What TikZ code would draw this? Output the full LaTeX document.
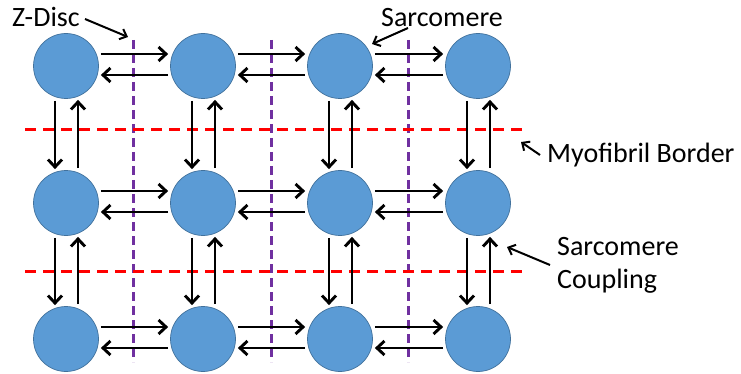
\documentclass[tikz,border=0pt]{standalone}
\usepackage{fontspec}
\setmainfont{Carlito}
\usetikzlibrary{arrows.meta}
\definecolor{cellblue}{RGB}{91,155,213}
\definecolor{celledge}{RGB}{65,113,156}
\definecolor{zpurple}{RGB}{112,48,160}
\begin{document}
\begin{tikzpicture}[x=1pt,y=-1pt,
  cell/.style={circle,fill=cellblue,draw=celledge,line width=0.7pt,minimum size=65pt,inner sep=0pt},
  arr/.style={line width=2.9pt,-{Straight Barb[length=7.5pt,width=14pt,line width=2.9pt]}},
  note/.style={line width=2pt,-{Straight Barb[length=6pt,width=11pt,line width=2pt]}},
  zline/.style={zpurple,line width=3pt,dash pattern=on 9pt off 5pt},
  mline/.style={red,line width=3pt,dash pattern=on 11pt off 7pt},
  lbl/.style={font=\fontsize{28}{33}\selectfont,inner sep=0pt}]
\useasboundingbox (0,0) rectangle (741,374);
% dashed borders
\draw[zline] (133,40) -- (133,362);
\draw[zline] (271,40) -- (271,362);
\draw[zline] (408,40) -- (408,362);
\draw[mline] (25,130) -- (525,130);
\draw[mline] (25,271) -- (525,271);
% cells
\foreach \c/\x in {1/66,2/203,3/340,4/478}{
  \foreach \r/\y in {1/66,2/203,3/339}{
    \node[cell] (n\r\c) at (\x,\y) {};
  }
}
% horizontal couplings
\foreach \r in {1,2,3}{
  \foreach \c/\d in {1/2,2/3,3/4}{
    \draw[arr] ([xshift=2pt,yshift=12pt]n\r\c.east) -- ([xshift=-2pt,yshift=12pt]n\r\d.west);
    \draw[arr] ([xshift=-2pt,yshift=-9pt]n\r\d.west) -- ([xshift=2pt,yshift=-9pt]n\r\c.east);
  }
}
% vertical couplings
\foreach \c in {1,2,3,4}{
  \foreach \r/\s in {1/2,2/3}{
    \draw[arr] ([xshift=-11pt,yshift=-2pt]n\r\c.south) -- ([xshift=-11pt,yshift=1pt]n\s\c.north);
    \draw[arr] ([xshift=12pt,yshift=2pt]n\s\c.north) -- ([xshift=12pt,yshift=-1pt]n\r\c.south);
  }
}
% labels
\node[lbl,anchor=base west] (zd) at (12,27) {Z-Disc};
\node[lbl,anchor=base west] (sc) at (381,27) {Sarcomere};
\node[lbl,anchor=base west] (mb) at (547,163) {Myofibril Border};
\node[lbl,anchor=north west,align=left] (cp) at (557,237) {Sarcomere\\Coupling};
% label pointers
\coordinate (zd1) at (85,19);   \coordinate (zd2) at (128,37);
\coordinate (sc1) at (408,28);  \coordinate (sc2) at (372,44);
\coordinate (mb1) at (540,155); \coordinate (mb2) at (521,142);
\coordinate (cp1) at (550,265); \coordinate (cp2) at (507,247);
\draw[note] (zd1) -- (zd2);
\draw[note] (sc1) -- (sc2);
\draw[note] (mb1) -- (mb2);
\draw[note] (cp1) -- (cp2);
\end{tikzpicture}
\end{document}
